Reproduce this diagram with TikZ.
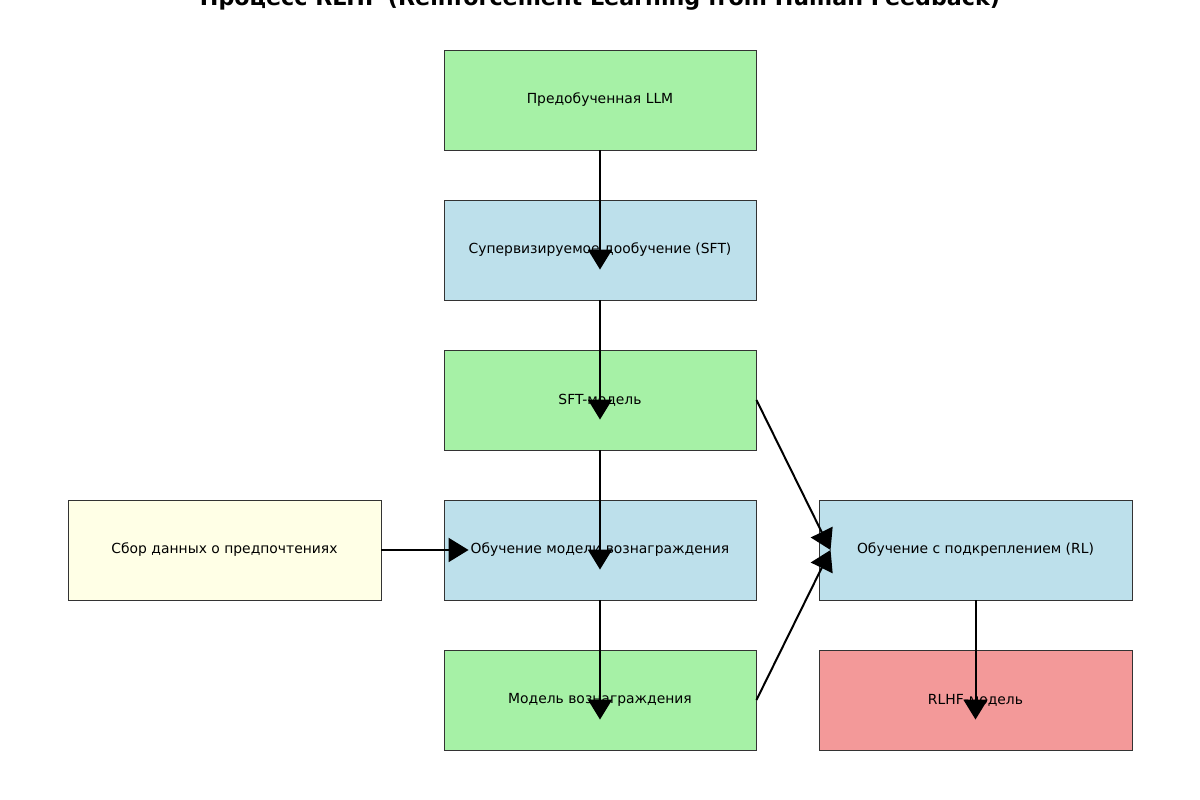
\documentclass[tikz,border=0pt]{standalone}
\usepackage{fontspec}
\setmainfont{DejaVu Sans}
\usetikzlibrary{arrows.meta}
\definecolor{cgreen}{HTML}{A6F1A6}
\definecolor{cblue}{HTML}{BDE0EB}
\definecolor{cyellow}{HTML}{FFFFE6}
\definecolor{cred}{HTML}{F39999}
\definecolor{cedge}{HTML}{333333}
\begin{document}
\begin{tikzpicture}[x=1pt,y=1pt,
  box/.style={draw=cedge,line width=0.9pt,minimum width=312pt,minimum height=100pt,
    inner sep=0pt,font=\fontsize{13.9}{16}\selectfont,text=black},
  arr/.style={line width=2pt,draw=black,-{Triangle[width=24pt,length=20pt]}}]
\useasboundingbox (0,0) rectangle (1200,800);
\fill[white] (0,0) rectangle (1200,800);
% title
\node[anchor=base,font=\bfseries\fontsize{22.2}{26}\selectfont,inner sep=0pt] (title) at (600,794)
  {Процесс RLHF (Reinforcement Learning from Human Feedback)};
% stages
\node[box,fill=cgreen] (A) at (600,700) {Предобученная LLM};
\node[box,fill=cblue] (B) at (600,550) {Супервизируемое дообучение (SFT)};
\node[box,fill=cgreen] (C) at (600,400) {SFT-модель};
\node[box,fill=cblue] (D) at (600,250) {Обучение модели вознаграждения};
\node[box,fill=cgreen] (E) at (600,100) {Модель вознаграждения};
\node[box,fill=cyellow,minimum width=313pt] (F) at (224.5,250) {Сбор данных о предпочтениях};
\node[box,fill=cblue,minimum width=313pt] (G) at (975.5,250) {Обучение с подкреплением (RL)};
\node[box,fill=cred,minimum width=313pt] (H) at (975.5,100) {RLHF-модель};
% connectors
\draw[arr] (A.south) -- ([yshift=-70pt]B.north);
\draw[arr] (B.south) -- ([yshift=-70pt]C.north);
\draw[arr] (C.south) -- ([yshift=-70pt]D.north);
\draw[arr] (D.south) -- ([yshift=-70pt]E.north);
\draw[arr] (F.east) -- ([xshift=25pt]D.west);
\draw[arr] (C.east) -- ([xshift=12pt]G.west);
\draw[arr] (E.east) -- ([xshift=12pt]G.west);
\draw[arr] (G.south) -- ([yshift=-70pt]H.north);
\end{tikzpicture}
\end{document}
